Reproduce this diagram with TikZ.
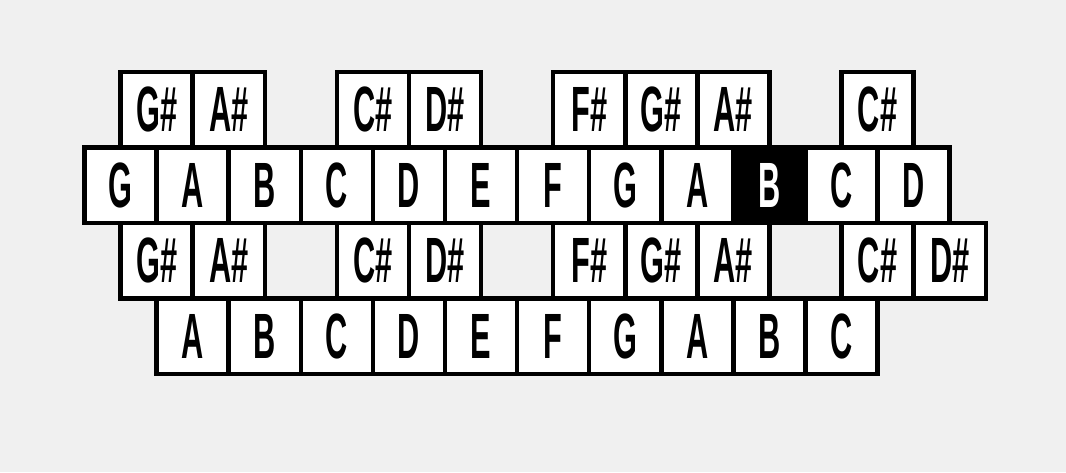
\documentclass[tikz,border=0pt]{standalone}
\usepackage{graphicx}
\usepackage{fontspec}
\setmainfont{Liberation Sans}
\definecolor{bg}{RGB}{240,240,240}
\newcommand{\keytxt}[1]{\scalebox{0.48}[1]{#1}}
\tikzset{
  keycell/.style={draw=black, line width=4.5pt, fill=white, minimum width=72.1pt,
    minimum height=75.5pt, inner sep=0pt, font=\fontsize{64}{64}\selectfont\bfseries},
  hlcell/.style={keycell, fill=black, text=white},
  gapcell/.style={keycell, fill=bg},
}
\begin{document}
\begin{tikzpicture}[x=1pt,y=-1pt]
\fill[bg] (0,0) rectangle (1066,472);
\useasboundingbox (0,0) rectangle (1066,472);
% row 1 (upper sharps)
\foreach \p/\l [count=\n] in {0.5/G\#,1.5/A\#,3.5/C\#,4.5/D\#,6.5/F\#,7.5/G\#,8.5/A\#,10.5/C\#}
  \node[keycell] (a\n) at ({84.5+72.1*(\p+0.5)},109.75) {\keytxt{\l}};
% row 2 (upper naturals)
\foreach \p/\l [count=\n] in {0/G,1/A,2/B,3/C,4/D,5/E,6/F,7/G,8/A,10/C,11/D}
  \node[keycell] (b\n) at ({84.5+72.1*(\p+0.5)},185.25) {\keytxt{\l}};
\node[hlcell] (bhl) at ({84.5+72.1*9.5},185.25) {\keytxt{B}};
% row 3 (lower sharps)
\foreach \p/\l [count=\n] in {0.5/G\#,1.5/A\#,3.5/C\#,4.5/D\#,6.5/F\#,7.5/G\#,8.5/A\#,10.5/C\#,11.5/D\#}
  \node[keycell] (c\n) at ({84.5+72.1*(\p+0.5)},260.75) {\keytxt{\l}};
\foreach \p [count=\n] in {2.5,5.5,9.5}
  \node[gapcell] (g\n) at ({84.5+72.1*(\p+0.5)},260.75) {};
% row 4 (lower naturals)
\foreach \p/\l [count=\n] in {1/A,2/B,3/C,4/D,5/E,6/F,7/G,8/A,9/B,10/C}
  \node[keycell] (d\n) at ({84.5+72.1*(\p+0.5)},336.25) {\keytxt{\l}};
\end{tikzpicture}
\end{document}
